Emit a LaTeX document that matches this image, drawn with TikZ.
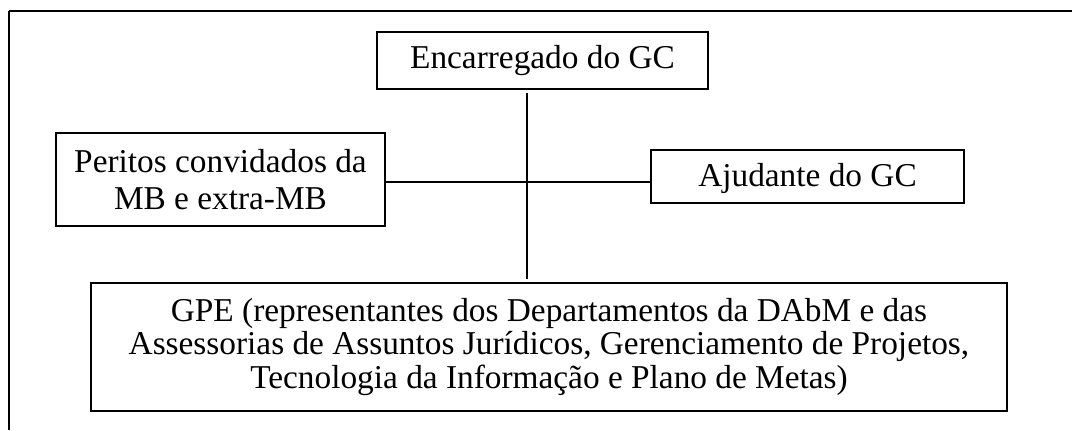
\documentclass[tikz,border=0pt]{standalone}
\usepackage{fontspec}
\setmainfont{Liberation Serif}
\begin{document}
\begin{tikzpicture}[x=0.75pt,y=-0.75pt,
  box/.style={draw=black,line width=1pt,inner sep=0pt,align=center,font=\fontsize{25}{33}\selectfont},
  conn/.style={draw=black,line width=1pt},
  frametop/.style={draw=black,line width=2pt},
  frameleft/.style={draw=black,line width=1.5pt}]
\useasboundingbox (0,0) rectangle (1072,430);
\node[box,minimum width=248.25pt,minimum height=42.75pt] (enc) at (542.5,60.5) {Encarregado do GC};
\node[box,minimum width=246.75pt,minimum height=69.75pt,font=\fontsize{25}{28}\selectfont] (per) at (220.5,179.5) {Peritos convidados da\\MB e extra-MB};
\node[box,minimum width=234.75pt,minimum height=39.75pt,text depth=2pt] (aju) at (807.5,176.5) {Ajudante do GC};
\node[box,minimum width=687pt,minimum height=96pt,font=\fontsize{25}{25}\selectfont] (gpe) at (549,347) {GPE (representantes dos Departamentos da DAbM e das\\Assessorias de Assuntos Jurídicos, Gerenciamento de Projetos,\\Tecnologia da Informação e Plano de Metas)};
\coordinate (vtop) at (527,93);
\coordinate (vbot) at (527,279);
\coordinate (hy) at (0,182);
\draw[conn] (vtop) -- (vbot);
\draw[conn] (per.east |- hy) -- (aju.west |- hy);
\coordinate (ftl) at (9,11);
\coordinate (ftr) at (1072,11);
\coordinate (fbl) at (9,430);
\draw[frametop] (ftl) -- (ftr);
\draw[frameleft] (ftl) -- (fbl);
\end{tikzpicture}
\end{document}
